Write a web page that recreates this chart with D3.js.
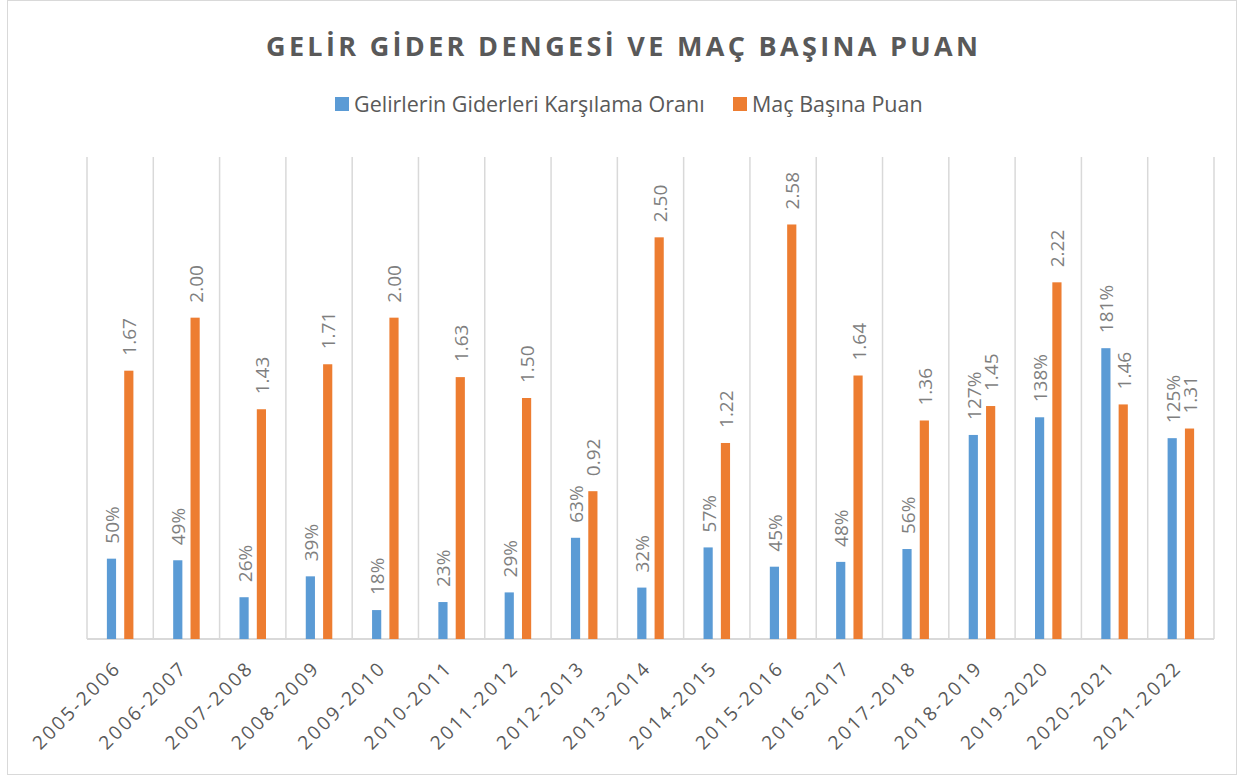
<!DOCTYPE html>
<html>
<head>
<meta charset="utf-8">
<script src="https://cdn.jsdelivr.net/npm/d3@7"></script>
<style>
  body { margin: 0; background: #fff; }
  text { font-family: "Open Sans", Lato, sans-serif; }
</style>
</head>
<body>
<div id="chart"></div>
<script>
var seasons = ["2005-2006", "2006-2007", "2007-2008", "2008-2009", "2009-2010", "2010-2011",
  "2011-2012", "2012-2013", "2013-2014", "2014-2015", "2015-2016", "2016-2017",
  "2017-2018", "2018-2019", "2019-2020", "2020-2021", "2021-2022"];
// gelirlerin giderleri karsilama orani (1 = %100)
var incomeRatio = [0.50, 0.49, 0.26, 0.39, 0.18, 0.23, 0.29, 0.63, 0.32, 0.57, 0.45, 0.48, 0.56, 1.27, 1.38, 1.81, 1.25];
// mac basina puan
var pointsPerGame = [1.67, 2.00, 1.43, 1.71, 2.00, 1.63, 1.50, 0.92, 2.50, 1.22, 2.58, 1.64, 1.36, 1.45, 2.22, 1.46, 1.31];
var seriesNames = ["Gelirlerin Giderleri Karşılama Oranı", "Maç Başına Puan"];
var seriesColors = ["#5b9bd5", "#ed7d31"];

var width = 1239, height = 776;
var plot = {left: 87, right: 1214, top: 157, bottom: 639};

var svg = d3.select("#chart").append("svg")
  .attr("width", width)
  .attr("height", height);

// chart border
svg.append("rect")
  .attr("x", 7.5).attr("y", 0.5)
  .attr("width", 1229).attr("height", 774)
  .style("fill", "none")
  .style("stroke", "#d9d9d9");

var x0 = d3.scaleBand().domain(seasons).range([plot.left, plot.right]).padding(0);
var x1 = d3.scaleBand().domain([0, 1])
  .range([x0.bandwidth() * 0.3, x0.bandwidth() * 0.7])
  .paddingInner(0.47);
var y = d3.scaleLinear().domain([0, 3]).range([plot.bottom, plot.top]);

// vertical gridlines at category edges
var edges = seasons.map(function(s) { return x0(s); }).concat([plot.right]);
svg.append("g").selectAll("line").data(edges).enter().append("line")
  .attr("x1", function(d) { return d; })
  .attr("x2", function(d) { return d; })
  .attr("y1", plot.top).attr("y2", plot.bottom)
  .style("stroke", "#d9d9d9")
  .style("stroke-width", 1.5);

// baseline
svg.append("line")
  .attr("x1", plot.left).attr("x2", plot.right)
  .attr("y1", plot.bottom).attr("y2", plot.bottom)
  .style("stroke", "#d9d9d9")
  .style("stroke-width", 2);

var rows = seasons.map(function(s, i) {
  return {season: s, values: [incomeRatio[i], pointsPerGame[i]]};
});

var groups = svg.append("g").selectAll("g").data(rows).enter().append("g")
  .attr("transform", function(d) { return "translate(" + x0(d.season) + ",0)"; });

groups.selectAll("rect").data(function(d) { return d.values; }).enter().append("rect")
  .attr("x", function(d, i) { return x1(i); })
  .attr("width", x1.bandwidth())
  .attr("y", function(d) { return y(d); })
  .attr("height", function(d) { return y(0) - y(d); })
  .style("fill", function(d, i) { return seriesColors[i]; });

var fmtPct = d3.format(".0%"), fmtPts = d3.format(".2f");
groups.selectAll("text.lbl").data(function(d) { return d.values; }).enter().append("text")
  .attr("class", "lbl")
  .attr("transform", function(d, i) {
    var cx = x1(i) + x1.bandwidth() / 2 + 7.5;
    return "translate(" + cx + "," + (y(d) - 15) + ") rotate(-90)";
  })
  .style("font-size", "19px")
  .style("fill", "#7f7f7f")
  .text(function(d, i) { return i === 0 ? fmtPct(d) : fmtPts(d); });

// x axis labels
svg.append("g").selectAll("text").data(seasons).enter().append("text")
  .attr("transform", function(d) {
    return "translate(" + (x0(d) + x0.bandwidth() / 2 + 2) + "," + (plot.bottom + 30) + ") rotate(-45)";
  })
  .attr("text-anchor", "end")
  .style("font-size", "19px")
  .style("letter-spacing", "2.5px")
  .style("fill", "#595959")
  .text(function(d) { return d; });

// title
svg.append("text")
  .attr("x", 622).attr("y", 56)
  .attr("text-anchor", "middle")
  .attr("textLength", 712)
  .attr("lengthAdjust", "spacing")
  .style("font-size", "27px")
  .style("font-weight", "bold")
  .style("fill", "#595959")
  .text("GELİR GİDER DENGESİ VE MAÇ BAŞINA PUAN");

// legend
var legendX = [335, 733];
var legend = svg.append("g").selectAll("g").data(seriesNames).enter().append("g")
  .attr("transform", function(d, i) { return "translate(" + legendX[i] + ",97)"; });
legend.append("rect")
  .attr("width", 14).attr("height", 14)
  .style("fill", function(d, i) { return seriesColors[i]; });
legend.append("text")
  .attr("x", 19).attr("y", 14.5)
  .style("font-size", "21.5px")
  .style("fill", "#595959")
  .text(function(d) { return d; });
</script>
</body>
</html>
